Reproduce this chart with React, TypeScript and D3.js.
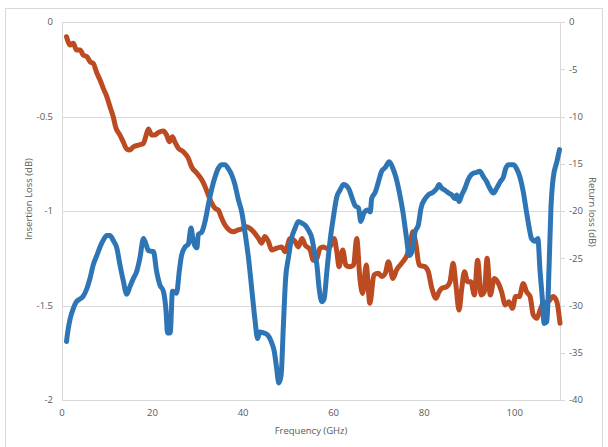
import React from "react";
import * as d3 from "d3";

// Insertion loss (left axis, dB) vs frequency (GHz)
const freqIL = [
  1.0, 1.8, 2.5, 3.2, 4.0, 4.7, 5.5, 6.2, 6.9, 7.7,
  8.4, 9.1, 9.9, 10.6, 11.3, 11.9, 12.8, 13.5, 14.3, 15.0,
  15.8, 16.9, 18.0, 18.6, 19.1, 19.8, 20.5, 21.3, 22.4, 23.1,
  23.7, 24.4, 24.9, 25.7, 26.8, 27.9, 28.6, 29.8, 30.9, 31.6,
  32.3, 33.1, 33.8, 34.5, 35.3, 36.0, 36.7, 37.8, 38.9, 40.1,
  40.8, 41.5, 42.6, 43.4, 44.1, 44.8, 45.6, 46.3, 47.4, 48.5,
  49.3, 50.4, 51.5, 52.2, 53.0, 53.7, 54.8, 55.5, 56.3, 57.0,
  57.7, 58.5, 59.2, 60.1, 60.7, 61.2, 62.0, 62.7, 63.5, 64.4,
  65.1, 65.8, 66.4, 67.2, 68.0, 68.9, 69.9, 70.6, 71.4, 72.1,
  73.1, 73.9, 75.0, 76.2, 76.9, 77.5, 78.2, 78.9, 80.2, 80.9,
  81.7, 82.6, 83.3, 83.9, 85.0, 85.7, 86.4, 87.0, 87.7, 88.3,
  88.9, 89.6, 90.3, 91.1, 91.8, 92.6, 93.3, 93.9, 94.6, 95.5,
  96.4, 97.1, 97.9, 98.7, 99.5, 100.2, 101.0, 101.9, 102.6, 103.4,
  104.1, 104.9, 105.6, 106.3, 107.4, 108.5, 109.3, 110.0,
];
const insertionLoss = [
  -0.078, -0.122, -0.113, -0.148, -0.148, -0.175, -0.183, -0.21, -0.219, -0.27,
  -0.307, -0.35, -0.395, -0.448, -0.5, -0.56, -0.598, -0.633, -0.672, -0.677,
  -0.66, -0.651, -0.642, -0.598, -0.566, -0.598, -0.598, -0.584, -0.577, -0.598,
  -0.633, -0.607, -0.633, -0.668, -0.686, -0.721, -0.765, -0.8, -0.836, -0.871,
  -0.915, -0.96, -0.986, -0.995, -1.04, -1.074, -1.095, -1.11, -1.1, -1.092,
  -1.083, -1.092, -1.118, -1.145, -1.17, -1.135, -1.162, -1.206, -1.197, -1.19,
  -1.215, -1.145, -1.162, -1.19, -1.145, -1.18, -1.205, -1.26, -1.25, -1.197,
  -1.19, -1.197, -1.19, -1.145, -1.215, -1.295, -1.206, -1.286, -1.295, -1.286,
  -1.145, -1.357, -1.436, -1.286, -1.488, -1.339, -1.33, -1.347, -1.33, -1.268,
  -1.357, -1.312, -1.277, -1.233, -1.18, -1.11, -1.18, -1.286, -1.295, -1.321,
  -1.409, -1.462, -1.427, -1.409, -1.4, -1.374, -1.277, -1.39, -1.524, -1.409,
  -1.321, -1.374, -1.374, -1.444, -1.26, -1.444, -1.427, -1.25, -1.444, -1.357,
  -1.383, -1.427, -1.497, -1.48, -1.515, -1.453, -1.453, -1.383, -1.427, -1.453,
  -1.55, -1.568, -1.524, -1.488, -1.48, -1.453, -1.48, -1.594,
];

// Return loss (right axis, dB) vs frequency (GHz)
const freqRL = [
  1.0, 1.4, 1.8, 2.5, 3.2, 4.0, 4.7, 5.5, 6.2, 6.9,
  7.7, 8.4, 9.1, 9.9, 10.6, 11.3, 12.1, 12.8, 13.5, 14.3,
  15.0, 15.8, 16.5, 17.2, 18.0, 18.6, 19.1, 20.2, 20.9, 21.6,
  22.4, 23.0, 23.3, 23.9, 24.4, 25.3, 25.9, 26.4, 27.2, 27.9,
  28.5, 29.0, 29.8, 30.1, 30.9, 31.6, 32.3, 33.1, 33.8, 34.5,
  35.3, 36.0, 36.7, 37.5, 38.2, 38.9, 39.7, 40.4, 41.2, 41.9,
  42.6, 43.2, 43.7, 44.5, 45.4, 46.2, 46.9, 47.4, 47.9, 48.4,
  48.9, 49.4, 50.0, 50.7, 51.5, 52.2, 53.0, 53.7, 54.4, 55.2,
  55.6, 56.3, 56.8, 57.4, 57.9, 58.5, 59.2, 59.9, 60.7, 61.4,
  62.2, 63.3, 64.0, 64.7, 65.5, 66.0, 66.7, 67.5, 68.1, 68.4,
  69.2, 69.9, 70.6, 71.4, 72.3, 73.1, 73.8, 74.5, 75.3, 76.0,
  76.7, 77.3, 78.0, 78.7, 79.3, 80.2, 80.9, 82.0, 82.8, 83.3,
  83.9, 84.6, 85.4, 86.1, 86.8, 87.2, 87.7, 88.3, 89.0, 89.7,
  90.5, 91.6, 92.3, 93.1, 93.8, 94.5, 95.3, 96.0, 96.8, 97.5,
  98.0, 98.7, 99.7, 100.4, 101.2, 101.9, 102.6, 103.2, 103.7, 104.5,
  105.1, 105.6, 106.1, 106.5, 107.1, 107.6, 108.0, 108.5, 109.3, 109.9,
];
const returnLoss = [
  -33.8, -32.4, -31.4, -30.3, -29.6, -29.3, -29.0, -28.2, -27.1, -25.7,
  -24.7, -23.8, -23.1, -22.6, -22.6, -23.1, -23.9, -25.7, -27.3, -28.8,
  -28.0, -27.1, -26.4, -25.0, -22.9, -23.6, -24.2, -24.3, -26.4, -27.8,
  -28.5, -30.7, -32.9, -32.9, -28.5, -28.7, -26.4, -24.7, -23.8, -23.5,
  -21.8, -23.2, -23.9, -22.5, -22.2, -21.1, -19.4, -17.6, -16.4, -15.5,
  -15.1, -15.1, -15.5, -16.2, -17.2, -18.7, -20.1, -22.2, -25.0, -28.2,
  -31.4, -33.5, -32.8, -32.9, -33.1, -33.8, -34.9, -36.6, -38.2, -37.4,
  -32.1, -27.1, -25.0, -22.9, -21.8, -21.1, -21.3, -21.5, -22.0, -22.9,
  -23.9, -25.7, -28.2, -29.6, -29.3, -26.4, -23.2, -20.8, -18.5, -17.8,
  -17.2, -17.6, -18.5, -19.4, -19.7, -21.1, -20.2, -19.9, -20.1, -18.7,
  -18.0, -16.9, -15.8, -15.4, -14.8, -15.5, -16.5, -18.0, -20.1, -22.5,
  -24.7, -24.3, -22.2, -21.5, -19.7, -18.7, -18.3, -18.0, -17.6, -17.2,
  -17.6, -17.8, -18.1, -18.3, -18.7, -18.3, -19.0, -18.3, -17.6, -16.7,
  -16.1, -15.9, -15.8, -16.4, -16.9, -17.6, -18.1, -17.6, -16.9, -16.4,
  -15.5, -15.1, -15.1, -15.5, -16.5, -18.0, -20.1, -21.8, -22.9, -23.2,
  -22.9, -26.4, -29.3, -31.9, -31.7, -25.7, -19.7, -16.5, -14.8, -13.5,
];

const xTicks = [0, 20, 40, 60, 80, 100];
const leftTicks = [0, -0.5, -1, -1.5, -2];
const rightTicks = [0, -5, -10, -15, -20, -25, -30, -35, -40];

const W = 608;
const H = 447;
const L = 62;
const R = 560;
const T = 22;
const B = 400;

const FONT = "'Open Sans', 'Liberation Sans', sans-serif";
const TXT = "#595959";
const GRID = "#d9d9d9";

export default function App() {
  const x = d3.scaleLinear().domain([0, 110]).range([L, R]);
  const yL = d3.scaleLinear().domain([-2, 0]).range([B, T]);
  const yR = d3.scaleLinear().domain([-40, 0]).range([B, T]);

  const ilData = freqIL.map((f, i) => [f, insertionLoss[i]] as [number, number]);
  const rlData = freqRL.map((f, i) => [f, returnLoss[i]] as [number, number]);

  const lineIL = d3
    .line<[number, number]>()
    .x((d) => x(d[0]))
    .y((d) => yL(d[1]))
    .curve(d3.curveMonotoneX);
  const lineRL = d3
    .line<[number, number]>()
    .x((d) => x(d[0]))
    .y((d) => yR(d[1]))
    .curve(d3.curveMonotoneX);

  return (
    <svg
      width={W}
      height={H}
      style={{ position: "absolute", left: 0, top: 0, background: "#fff" }}
      fontFamily={FONT}
    >
      <rect x={5.5} y={8.5} width={597} height={445} fill="#fff" stroke={GRID} strokeWidth={1} />
      {/* gridlines */}
      {leftTicks.map((t) => (
        <line key={"g" + t} x1={L} x2={R} y1={Math.round(yL(t)) + 0.5} y2={Math.round(yL(t)) + 0.5} stroke={GRID} strokeWidth={1} />
      ))}
      {/* axes */}
      <line x1={L + 0.5} x2={L + 0.5} y1={T} y2={B} stroke={GRID} strokeWidth={1} />
      <line x1={R + 0.5} x2={R + 0.5} y1={T} y2={B} stroke={GRID} strokeWidth={1} />
      {rightTicks.map((t) => (
        <line key={"rt" + t} x1={R} x2={R + 5} y1={Math.round(yR(t)) + 0.5} y2={Math.round(yR(t)) + 0.5} stroke={GRID} strokeWidth={1} />
      ))}
      {/* tick labels */}
      {leftTicks.map((t) => (
        <text key={"lt" + t} x={L - 9} y={yL(t)} dy="0.35em" textAnchor="end" fontSize={9.5} fill={TXT}>
          {t}
        </text>
      ))}
      {rightTicks.map((t) => (
        <text key={"rl" + t} x={R + 9} y={yR(t)} dy="0.35em" textAnchor="start" fontSize={9.5} fill={TXT}>
          {t}
        </text>
      ))}
      {xTicks.map((t) => (
        <text key={"xt" + t} x={x(t)} y={416} textAnchor="middle" fontSize={9.5} fill={TXT}>
          {t}
        </text>
      ))}
      {/* axis titles */}
      <text x={311} y={434} textAnchor="middle" fontSize={9.5} fill={TXT}>
        Frequency (GHz)
      </text>
      <text transform={`translate(32,199) rotate(-90)`} textAnchor="middle" fontSize={9.5} fill={TXT}>
        Insertion Loss (dB)
      </text>
      <text transform={`translate(589,212) rotate(90)`} textAnchor="middle" fontSize={9.5} fill={TXT}>
        Return loss (dB)
      </text>
      {/* series */}
      <path d={lineIL(ilData) || ""} fill="none" stroke="#BC4B22" strokeWidth={5} strokeLinejoin="round" strokeLinecap="round" />
      <path d={lineRL(rlData) || ""} fill="none" stroke="#2E75B6" strokeWidth={5} strokeLinejoin="round" strokeLinecap="round" />
    </svg>
  );
}
